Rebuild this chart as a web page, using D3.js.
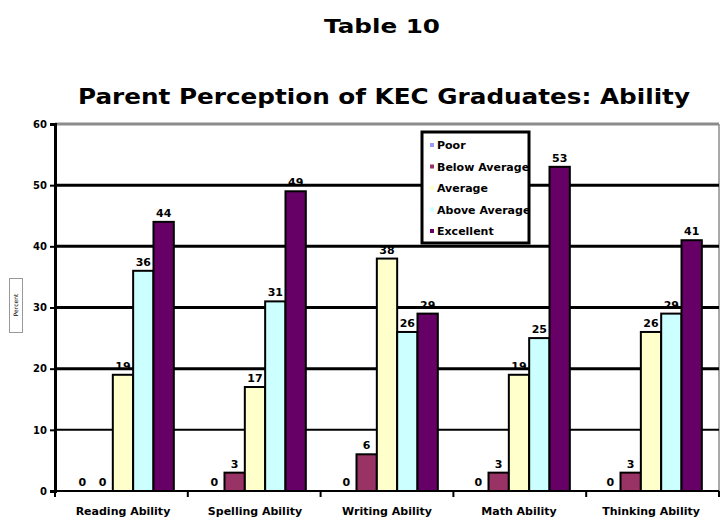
<!DOCTYPE html>
<html>
<head>
<meta charset="utf-8">
<script src="https://cdn.jsdelivr.net/npm/d3@7"></script>
<style>
  body { margin: 0; background: #fff; }
  svg { display: block; font-family: "DejaVu Sans", "Liberation Sans", sans-serif; }
</style>
</head>
<body>
<svg id="chart" width="721" height="523"></svg>
<script>
// chart values
const categories = ["Reading Ability", "Spelling Ability", "Writing Ability", "Math Ability", "Thinking Ability"];
const series_names = ["Poor", "Below Average", "Average", "Above Average", "Excellent"];
const poor = [0, 0, 0, 0, 0];
const below_average = [0, 3, 6, 3, 3];
const average = [19, 17, 38, 19, 26];
const above_average = [36, 31, 26, 25, 29];
const excellent = [44, 49, 29, 53, 41];
const y_ticks = [0, 10, 20, 30, 40, 50, 60];

const series_values = [poor, below_average, average, above_average, excellent];
const colors = ["#9999ff", "#993366", "#ffffcc", "#ccffff", "#660066"];

let svg = d3.select("#chart");

let plot_left = 55, plot_right = 719, plot_top = 124, plot_bottom = 491;

let x0 = d3.scaleBand()
           .domain(categories)
           .range([plot_left, plot_right])
           .paddingInner(0.23)
           .paddingOuter(0.13);

let x1 = d3.scaleBand()
           .domain(series_names)
           .range([0, x0.bandwidth()]);

let y = d3.scaleLinear()
          .domain([0, 60])
          .range([plot_bottom, plot_top]);

// Titles
svg.append("text")
   .attr("x", 382)
   .attr("y", 33)
   .attr("text-anchor", "middle")
   .attr("font-size", 20)
   .attr("font-weight", "bold")
   .attr("textLength", 116)
   .attr("lengthAdjust", "spacingAndGlyphs")
   .text("Table 10");

svg.append("text")
   .attr("x", 384)
   .attr("y", 104)
   .attr("text-anchor", "middle")
   .attr("font-size", 22)
   .attr("font-weight", "bold")
   .attr("textLength", 612)
   .attr("lengthAdjust", "spacingAndGlyphs")
   .text("Parent Perception of KEC Graduates: Ability");

// plot frame (grey top and right)
svg.append("line")
   .attr("x1", plot_left).attr("x2", plot_right)
   .attr("y1", plot_top).attr("y2", plot_top)
   .attr("stroke", "#8c8c8c")
   .attr("stroke-width", 3);
svg.append("line")
   .attr("x1", plot_right).attr("x2", plot_right)
   .attr("y1", plot_top).attr("y2", plot_bottom)
   .attr("stroke", "#8c8c8c")
   .attr("stroke-width", 1.5);

// Gridlines
svg.append("g")
   .selectAll("line")
   .data(y_ticks.filter(d => d > 0 && d < 60))
   .join("line")
   .attr("x1", plot_left)
   .attr("x2", plot_right)
   .attr("y1", d => y(d))
   .attr("y2", d => y(d))
   .attr("stroke", "#000")
   .attr("stroke-width", d => d == 10 ? 2 : 3);

// Bars
let groups = svg.append("g")
                .selectAll("g")
                .data(categories)
                .join("g")
                .attr("transform", d => "translate(" + x0(d) + ",0)");

groups.selectAll("rect")
      .data((d, i) => series_names.map((s, j) => ({series: s, value: series_values[j][i], color: colors[j]})))
      .join("rect")
      .attr("x", d => x1(d.series))
      .attr("y", d => y(d.value))
      .attr("width", x1.bandwidth())
      .attr("height", d => y(0) - y(d.value))
      .attr("fill", d => d.color)
      .attr("stroke", "#000")
      .attr("stroke-width", 2);

groups.selectAll("text")
      .data((d, i) => series_names.map((s, j) => ({series: s, value: series_values[j][i]})))
      .join("text")
      .attr("x", d => x1(d.series) + x1.bandwidth() / 2)
      .attr("y", d => y(d.value) - 5)
      .attr("text-anchor", "middle")
      .attr("font-size", 11)
      .attr("font-weight", "bold")
      .text(d => d.value);

// Y axis
let y_axis = svg.append("g")
                .attr("transform", "translate(" + plot_left + ",0)")
                .call(d3.axisLeft(y).tickValues(y_ticks).tickSize(5).tickPadding(3));
y_axis.select(".domain").attr("stroke-width", 3);
y_axis.selectAll(".tick line").attr("stroke-width", 2);
y_axis.selectAll("text")
      .attr("font-size", 10)
      .attr("font-weight", "bold")
      .attr("font-family", "DejaVu Sans, sans-serif");

// X axis
let x_axis = svg.append("g")
                .attr("transform", "translate(0," + plot_bottom + ")");
x_axis.append("line")
      .attr("x1", plot_left).attr("x2", plot_right)
      .attr("y1", 0).attr("y2", 0)
      .attr("stroke", "#000")
      .attr("stroke-width", 2);
x_axis.selectAll(".sep")
      .data(d3.range(categories.length + 1))
      .join("line")
      .attr("class", "sep")
      .attr("x1", i => plot_left + i * (plot_right - plot_left) / categories.length)
      .attr("x2", i => plot_left + i * (plot_right - plot_left) / categories.length)
      .attr("y1", 0)
      .attr("y2", 6)
      .attr("stroke", "#000")
      .attr("stroke-width", 2);
x_axis.selectAll(".cat")
      .data(categories)
      .join("text")
      .attr("class", "cat")
      .attr("x", d => x0(d) + x0.bandwidth() / 2)
      .attr("y", 24)
      .attr("text-anchor", "middle")
      .attr("font-size", 11)
      .attr("font-weight", "bold")
      .text(d => d);

// Y axis title in small box
svg.append("rect")
   .attr("x", 9.5).attr("y", 278.5)
   .attr("width", 13).attr("height", 54)
   .attr("fill", "#fff")
   .attr("stroke", "#999")
   .attr("stroke-width", 1);
svg.append("text")
   .attr("transform", "translate(18,305) rotate(-90)")
   .attr("text-anchor", "middle")
   .attr("font-size", 6)
   .text("Percent");

// Legend
let legend = svg.append("g");
legend.append("rect")
      .attr("x", 422).attr("y", 132)
      .attr("width", 107).attr("height", 111)
      .attr("fill", "#fff")
      .attr("stroke", "#000")
      .attr("stroke-width", 3);
let legend_rows = legend.selectAll("g")
                        .data(series_names)
                        .join("g")
                        .attr("transform", (d, i) => "translate(432," + (145 + i * 21.5) + ")");
legend_rows.append("rect")
           .attr("x", -2).attr("y", -2)
           .attr("width", 4).attr("height", 4)
           .attr("fill", (d, i) => colors[i]);
legend_rows.append("text")
           .attr("x", 5)
           .attr("y", 4)
           .attr("font-size", 11)
           .attr("font-weight", "bold")
           .text(d => d);
</script>
</body>
</html>
